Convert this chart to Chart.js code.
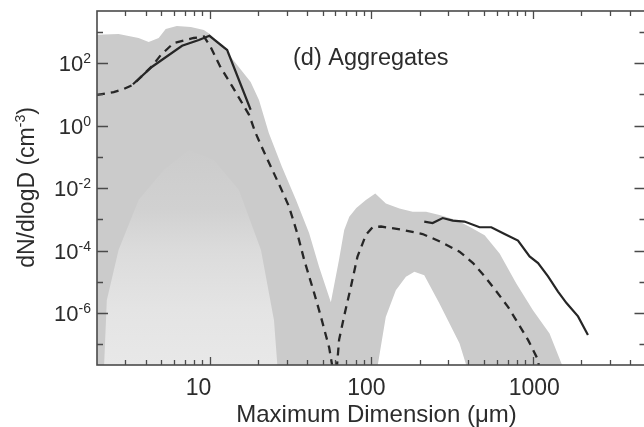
<!DOCTYPE html>
<html lang="en">
<head>
  <meta charset="UTF-8"/>
  <title>Aggregates size distribution</title>
  <style>
    html, body { margin: 0; padding: 0; background: #fff; overflow: hidden; }
    #wrap { width: 650px; height: 427px; }
  </style>
</head>
<body>
  <div id="wrap"><canvas id="chart"></canvas></div>

  <script src="https://cdn.jsdelivr.net/npm/chart.js"></script>
  <script>
  // axis ranges (um, cm^-3)
  const xMin = 2, xMax = 5000;
  const yMin = 2.2e-8, yMax = 4.6e3;

  // tick positions
  const xMajorTicks = [10, 100, 1000];
  const xMinorTicks = [3, 4, 5, 6, 7, 8, 9, 20, 30, 40, 50, 60, 70, 80, 90,
                       200, 300, 400, 500, 600, 700, 800, 900, 2000, 3000, 4000];
  const yMajorExps = [-6, -4, -2, 0, 2];
  const yMinorExps = [-7, -5, -3, -1, 1, 3];

  // upper edge of the grey band of individual fitted spectra
  const spreadTop = [
    [1.9, 787], [2.72, 847], [3.62, 631], [4.18, 470], [4.82, 631], [5.33, 1225],
    [6.24, 1528], [7.62, 1419], [9.18, 1138], [10, 847], [12.75, 225], [17.9, 24.7],
    [20.16, 6.55], [23.2, 0.575], [28.0, 0.047], [34.2, 4.13e-3], [41.2, 3.63e-4],
    [47.6, 2.96e-5], [56.2, 2.25e-6], [63.1, 4.97e-5], [68.0, 4.53e-4], [73.1, 1.21e-3],
    [80.8, 2.29e-3], [92.6, 4.13e-3], [105.9, 6.76e-3], [123.2, 3.24e-3], [149.5, 2.24e-3],
    [180.5, 1.75e-3], [218.6, 1.75e-3], [264.5, 1.37e-3], [336, 9.46e-4], [406, 5.78e-4],
    [504, 3.13e-4], [624, 8.13e-5], [792, 8.9e-6], [1004, 1.25e-6], [1272, 2.24e-7],
    [1616, 1e-8]
  ];
  // empty gap under the large-particle mode
  const spreadGap = [
    [107, 1e-8], [123, 7.6e-7], [142, 5.4e-6], [164, 1.45e-5], [185, 2.1e-5],
    [213, 1.64e-5], [264, 2.09e-6], [352, 1.1e-7], [406, 1e-8]
  ];
  // thinner, criss-crossing spectra under the small-particle mode
  const spreadMesh = [
    [2.2, 1e-8], [2.3, 2.6e-6], [2.72, 1.04e-4], [3.62, 4.13e-3], [5.18, 0.0377],
    [7.41, 0.164], [10.59, 0.0787], [15.14, 8.63e-3], [20.74, 1.04e-4], [24.97, 5.97e-7],
    [26.5, 1e-8]
  ];

  // mean fitted spectrum (dashed)
  const fitMean = [
    [2, 9.5], [2.54, 11.7], [2.93, 14.8], [3.34, 20], [4.39, 80], [4.97, 180],
    [5.97, 435], [7.95, 630], [9.2, 700], [10.1, 330], [11.6, 76], [13.8, 17.5],
    [17.5, 2.2], [19.2, 0.58], [21.6, 0.148], [24.4, 0.038], [27.5, 0.01],
    [30.9, 2.6e-3], [34.8, 3.6e-4], [38.4, 5.1e-5], [44.3, 4.4e-6], [48.7, 7.9e-7],
    [54.9, 7.8e-8], [60, 5e-9], [63.2, 1.4e-7], [67.9, 8e-7], [74.8, 7e-6],
    [82.2, 6.5e-5], [92.7, 3.2e-4], [102, 5.6e-4], [115, 5.9e-4], [157, 4.6e-4],
    [208, 3.4e-4], [264, 2e-4], [352, 9.3e-5], [427, 4e-5], [504, 1.5e-5],
    [595, 5e-6], [703, 1.6e-6], [811, 4.8e-7], [936, 1.4e-7], [1080, 3.2e-8],
    [1110, 1e-8]
  ];
  // measured spectra (solid): small-particle probe, then imaging probe
  const measSmall = [
    [3.34, 21], [4.39, 76], [6.73, 355], [8.55, 540], [9.95, 742], [12.8, 260], [17.9, 3.2]
  ];
  const measLarge = [
    [213, 8.5e-4], [240, 7.6e-4], [277, 1.1e-3], [320, 9.1e-4], [378, 8.5e-4],
    [469, 5.6e-4], [554, 5.6e-4], [670, 3.4e-4], [811, 2.1e-4], [957, 6.5e-5],
    [1080, 4e-5], [1245, 1.5e-5], [1435, 4.9e-6], [1620, 2.1e-6], [1910, 7.9e-7],
    [2200, 2e-7]
  ];

  const FONT = '"Liberation Sans", Arial, Helvetica, sans-serif';
  const axisColor = '#4a4a4a';
  const textColor = '#2c2c2c';
  const lineColor = '#262626';
  const bandColor = '#cbcbcb';

  const pts = arr => arr.map(p => ({x: p[0], y: p[1]}));

  function band(data, color, order) {
    return { data: pts(data), borderWidth: 0, borderColor: 'rgba(0,0,0,0)', backgroundColor: color,
             fill: 'start', pointRadius: 0, order: order, clip: 0 };
  }

  // the mesh gets paler towards the bottom where the lines thin out
  function meshFill(context) {
    const chart = context.chart;
    const y = chart.scales.y;
    if (!chart.chartArea || !y) return '#dcdcdc';
    const top = y.getPixelForValue(0.3), bot = chart.chartArea.bottom;
    const g = chart.ctx.createLinearGradient(0, top, 0, bot);
    g.addColorStop(0, bandColor);
    g.addColorStop(0.3, '#d1d1d1');
    g.addColorStop(0.5, '#dcdcdc');
    g.addColorStop(0.75, '#e4e4e4');
    g.addColorStop(1, '#e8e8e8');
    return g;
  }

  // draws "10" with a raised exponent, right edge at xr
  function drawPow(ctx, exp, xr, base, big, small, rise) {
    ctx.font = big + 'px ' + FONT;
    const wTen = ctx.measureText('10').width;
    ctx.font = small + 'px ' + FONT;
    const wExp = ctx.measureText(String(exp)).width;
    ctx.textAlign = 'left';
    ctx.font = big + 'px ' + FONT;
    ctx.fillText('10', xr - wExp - wTen, base);
    ctx.font = small + 'px ' + FONT;
    ctx.fillText(String(exp), xr - wExp, base - rise);
  }

  const framePlugin = {
    id: 'frame',
    afterDatasetsDraw(chart) {
      const {ctx, chartArea: a, scales: {x, y}} = chart;
      ctx.save();
      ctx.strokeStyle = axisColor;
      ctx.lineWidth = 1.6;
      ctx.strokeRect(a.left, a.top, a.right - a.left, a.bottom - a.top);

      // inward ticks on all four sides
      ctx.lineWidth = 1.3;
      ctx.beginPath();
      const xt = (v, len) => {
        const px = Math.round(x.getPixelForValue(v)) + 0.5;
        ctx.moveTo(px, a.bottom); ctx.lineTo(px, a.bottom - len);
        ctx.moveTo(px, a.top); ctx.lineTo(px, a.top + len);
      };
      xMinorTicks.forEach(v => xt(v, 5));
      xMajorTicks.forEach(v => xt(v, 8));
      const yt = (e, len) => {
        const py = Math.round(y.getPixelForValue(Math.pow(10, e))) + 0.5;
        ctx.moveTo(a.left, py); ctx.lineTo(a.left + len, py);
        ctx.moveTo(a.right, py); ctx.lineTo(a.right - len, py);
      };
      yMinorExps.forEach(e => yt(e, 6));
      yMajorExps.forEach(e => yt(e, 11));
      ctx.stroke();

      ctx.fillStyle = textColor;
      ctx.textBaseline = 'alphabetic';

      // y tick labels
      yMajorExps.forEach(e => {
        const py = y.getPixelForValue(Math.pow(10, e));
        drawPow(ctx, e, a.left - 6, py + 8, 22, 14, 8);
      });

      // x tick labels
      ctx.font = '23px ' + FONT;
      ctx.textAlign = 'left';
      xMajorTicks.forEach(v => {
        ctx.fillText(String(v), x.getPixelForValue(v) - 24, 395);
      });

      // axis titles
      ctx.font = '24px ' + FONT;
      ctx.textAlign = 'center';
      ctx.fillText('Maximum Dimension (\u03BCm)', 376.5, 422);

      ctx.save();
      ctx.translate(34, 187.5);
      ctx.rotate(-Math.PI / 2);
      ctx.font = '23px ' + FONT;
      const t1 = 'dN/dlogD (cm', t3 = ')';
      const w1 = ctx.measureText(t1).width, w3 = ctx.measureText(t3).width;
      ctx.font = '14px ' + FONT;
      const w2 = ctx.measureText('-3').width;
      let cx = -(w1 + w2 + w3) / 2;
      ctx.textAlign = 'left';
      ctx.font = '23px ' + FONT;
      ctx.fillText(t1, cx, 0); cx += w1;
      ctx.font = '14px ' + FONT;
      ctx.fillText('-3', cx, -9); cx += w2;
      ctx.font = '23px ' + FONT;
      ctx.fillText(t3, cx, 0);
      ctx.restore();

      // panel label
      ctx.font = '23.5px ' + FONT;
      ctx.textAlign = 'left';
      ctx.fillText('(d) Aggregates', 293, 65);
      ctx.restore();
    }
  };

  new Chart(document.getElementById('chart'), {
    type: 'line',
    data: {
      datasets: [
        { data: pts(fitMean), borderColor: lineColor, borderWidth: 2.3, borderDash: [8, 6],
          pointRadius: 0, fill: false, order: 1, clip: 0 },
        { data: pts(measSmall), borderColor: lineColor, borderWidth: 2.2,
          pointRadius: 0, fill: false, order: 0, clip: 0 },
        { data: pts(measLarge), borderColor: lineColor, borderWidth: 2.2,
          pointRadius: 0, fill: false, order: 0, clip: 0 },
        band(spreadGap, '#ffffff', 5),
        band(spreadMesh, meshFill, 6),
        band(spreadTop, bandColor, 10)
      ]
    },
    options: {
      responsive: true,
      maintainAspectRatio: false,
      animation: false,
      layout: { padding: { left: 97, top: 11, right: 4.5, bottom: 62 } },
      plugins: { legend: { display: false }, tooltip: { enabled: false } },
      elements: { line: { tension: 0 } },
      scales: {
        x: { type: 'logarithmic', min: xMin, max: xMax, display: false },
        y: { type: 'logarithmic', min: yMin, max: yMax, display: false }
      }
    },
    plugins: [framePlugin]
  });
  </script>
</body>
</html>
